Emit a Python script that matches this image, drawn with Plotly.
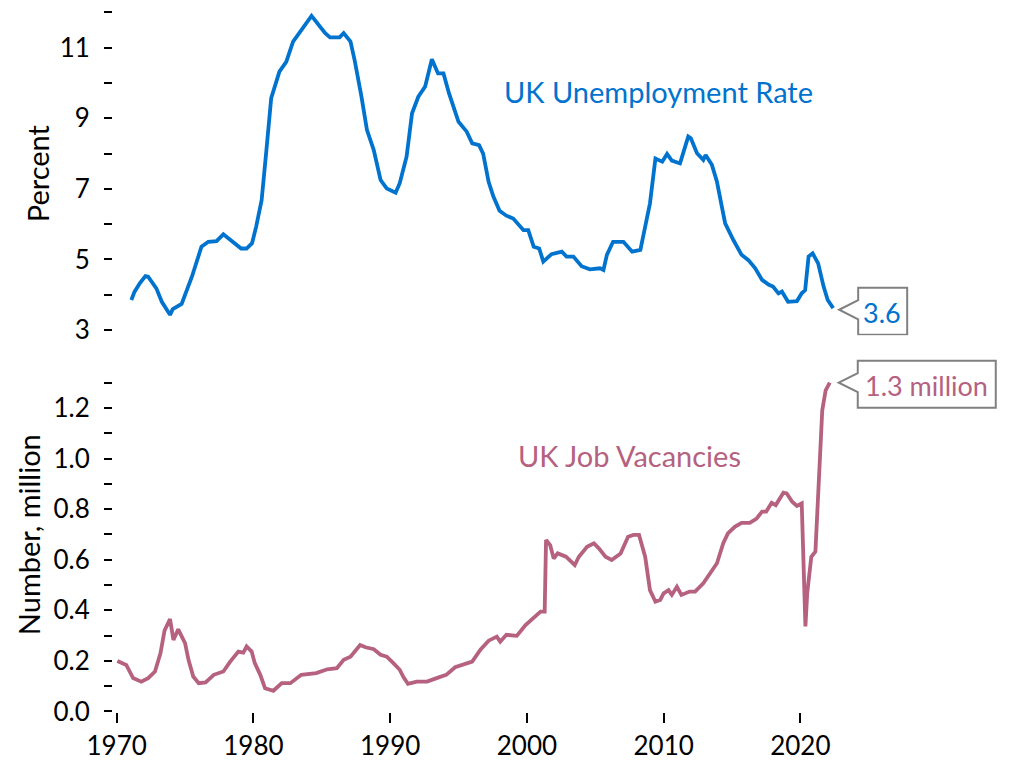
import plotly.graph_objects as go

# UK unemployment rate, percent
unemp_year = [
    1971.07, 1971.3, 1971.7, 1972.1, 1972.3, 1972.9, 1973.3, 1973.9, 1974.1, 1974.75,
    1975.5, 1976.2, 1976.7, 1977.3, 1977.8, 1978.5, 1979.1, 1979.5, 1979.9, 1980.2,
    1980.6, 1980.95, 1981.3, 1981.9, 1982.4, 1982.9, 1983.5, 1984.25, 1985.25, 1985.6,
    1986.3, 1986.6, 1987.1, 1987.4, 1987.9, 1988.3, 1988.8, 1989.3, 1989.75, 1990.4,
    1990.7, 1991.2, 1991.6, 1992.06, 1992.56, 1993.05, 1993.5, 1993.9, 1994.3, 1994.6,
    1995.0, 1995.6, 1996.0, 1996.5, 1996.8, 1997.2, 1997.55, 1998.0, 1998.5, 1999.0,
    1999.4, 1999.75, 2000.1, 2000.5, 2000.9, 2001.2, 2001.8, 2002.55, 2002.9, 2003.4,
    2004.0, 2004.6, 2005.35, 2005.6, 2005.85, 2006.3, 2007.06, 2007.7, 2008.3, 2008.65,
    2009.0, 2009.4, 2009.9, 2010.25, 2010.6, 2011.2, 2011.8, 2011.99, 2012.44, 2012.9,
    2013.07, 2013.53, 2013.9, 2014.26, 2014.5, 2015.1, 2015.7, 2016.2, 2016.7, 2017.2,
    2017.7, 2018.0, 2018.4, 2018.65, 2019.1, 2019.75, 2020.1, 2020.35, 2020.6, 2020.9,
    2021.3, 2021.7, 2022.0, 2022.4,
]
unemp_rate = [
    3.85, 4.08, 4.33, 4.53, 4.51, 4.18, 3.8, 3.43, 3.59, 3.74,
    4.51, 5.36, 5.5, 5.52, 5.71, 5.5, 5.31, 5.31, 5.46, 5.93,
    6.68, 8.1, 9.57, 10.32, 10.6, 11.17, 11.5, 11.9, 11.41, 11.29,
    11.29, 11.41, 11.17, 10.65, 9.61, 8.67, 8.1, 7.25, 7.01, 6.89,
    7.16, 7.91, 9.14, 9.61, 9.9, 10.67, 10.27, 10.27, 9.71, 9.38,
    8.9, 8.62, 8.29, 8.24, 8.0, 7.2, 6.78, 6.38, 6.24, 6.16,
    5.98, 5.83, 5.83, 5.36, 5.31, 4.94, 5.15, 5.22, 5.08, 5.08,
    4.81, 4.72, 4.75, 4.7, 5.13, 5.5, 5.5, 5.22, 5.27, 5.93,
    6.59, 7.86, 7.77, 7.99, 7.8, 7.72, 8.48, 8.43, 8.01, 7.82,
    7.96, 7.68, 7.2, 6.49, 6.02, 5.55, 5.13, 4.98, 4.75, 4.42,
    4.28, 4.23, 4.04, 4.09, 3.8, 3.82, 4.04, 4.13, 5.08, 5.17,
    4.89, 4.23, 3.85, 3.62,
]

# UK job vacancies, million
vac_year = [
    1970.05, 1970.7, 1971.2, 1971.8, 1972.3, 1972.8, 1973.2, 1973.5, 1973.9, 1974.15,
    1974.5, 1975.0, 1975.25, 1975.6, 1976.0, 1976.5, 1977.1, 1977.8, 1978.3, 1978.9,
    1979.26, 1979.5, 1979.87, 1980.1, 1980.5, 1980.85, 1981.46, 1982.07, 1982.7, 1983.5,
    1984.6, 1985.4, 1986.1, 1986.6, 1987.1, 1987.8, 1988.2, 1988.8, 1989.3, 1989.75,
    1990.2, 1990.7, 1990.97, 1991.3, 1991.95, 1992.7, 1993.4, 1994.1, 1994.75, 1995.35,
    1996.0, 1996.6, 1997.2, 1997.8, 1998.05, 1998.5, 1999.26, 1999.9, 2000.5, 2001.0,
    2001.3, 2001.4, 2001.7, 2001.96, 2002.25, 2002.86, 2003.5, 2003.8, 2004.4, 2004.9,
    2005.26, 2005.75, 2006.2, 2006.85, 2007.4, 2007.8, 2008.2, 2008.65, 2009.0, 2009.4,
    2009.75, 2010.0, 2010.36, 2010.6, 2010.97, 2011.3, 2011.9, 2012.3, 2012.9, 2013.4,
    2013.9, 2014.36, 2014.7, 2015.2, 2015.7, 2016.3, 2016.8, 2017.2, 2017.5, 2017.9,
    2018.2, 2018.76, 2019.0, 2019.4, 2019.75, 2020.1, 2020.2, 2020.37, 2020.5, 2020.8,
    2021.1, 2021.3, 2021.6, 2021.85, 2022.15,
]
vac_million = [
    0.2, 0.184, 0.132, 0.118, 0.132, 0.158, 0.23, 0.32, 0.365, 0.283,
    0.325, 0.27, 0.204, 0.138, 0.112, 0.115, 0.145, 0.158, 0.197, 0.237,
    0.233, 0.257, 0.237, 0.191, 0.145, 0.092, 0.082, 0.112, 0.112, 0.145,
    0.152, 0.167, 0.171, 0.204, 0.217, 0.263, 0.254, 0.246, 0.224, 0.217,
    0.193, 0.165, 0.136, 0.109, 0.118, 0.118, 0.132, 0.145, 0.175, 0.184,
    0.197, 0.244, 0.28, 0.296, 0.276, 0.303, 0.299, 0.342, 0.369, 0.395,
    0.395, 0.678, 0.658, 0.605, 0.625, 0.612, 0.579, 0.612, 0.651, 0.665,
    0.645, 0.612, 0.599, 0.625, 0.691, 0.698, 0.698, 0.612, 0.48, 0.434,
    0.441, 0.467, 0.48, 0.461, 0.493, 0.461, 0.474, 0.474, 0.507, 0.546,
    0.586, 0.665, 0.704, 0.73, 0.746, 0.746, 0.763, 0.79, 0.79, 0.825,
    0.816, 0.865, 0.862, 0.829, 0.813, 0.823, 0.665, 0.336, 0.467, 0.612,
    0.632, 0.836, 1.19, 1.27, 1.30,
]

x_ticks = [1970, 1980, 1990, 2000, 2010, 2020]
unemp_ticks = [3, 4, 5, 6, 7, 8, 9, 10, 11, 12]
unemp_labels = ["3", "", "5", "", "7", "", "9", "", "11", ""]
vac_ticks = [0.0, 0.1, 0.2, 0.3, 0.4, 0.5, 0.6, 0.7, 0.8, 0.9, 1.0, 1.1, 1.2, 1.3]
vac_labels = ["0.0", "", "0.2", "", "0.4", "", "0.6", "", "0.8", "", "1.0", "", "1.2", ""]

BLUE = "#0073CF"
PINK = "#B5617F"
GREY = "#808080"
FONT = "Lato, 'Open Sans', sans-serif"

fig = go.Figure()
fig.add_trace(go.Scatter(x=unemp_year, y=unemp_rate, mode="lines", xaxis="x2", yaxis="y2",
                         line=dict(color=BLUE, width=3.8), showlegend=False))
fig.add_trace(go.Scatter(x=vac_year, y=vac_million, mode="lines", xaxis="x", yaxis="y",
                         line=dict(color=PINK, width=3.8), showlegend=False))

tick_style = dict(ticks="outside", tickwidth=2, tickcolor="black", showgrid=False,
                  zeroline=False, showline=False, automargin=False,
                  tickfont=dict(family=FONT, size=26, color="black"))

# the page body adds 8px around the figure, so the figure is 8px smaller
fig.update_layout(
    width=1003,
    height=752,
    plot_bgcolor="white",
    paper_bgcolor="white",
    margin=dict(l=105, r=11, t=4, b=48),
    font=dict(family=FONT, color="black"),
    xaxis=dict(range=[1969.73, 2034.6], tickvals=x_ticks, ticklen=10,
               ticklabelstandoff=1, **tick_style),
    xaxis2=dict(matches="x", anchor="y2", showticklabels=False, ticks="",
                showgrid=False, zeroline=False, showline=False),
    yaxis=dict(domain=[0, 0.5066], range=[-0.002, 1.4], tickvals=vac_ticks,
               ticktext=vac_labels, ticklen=8, ticklabelstandoff=9,
               title=dict(text="Number, million", font=dict(family=FONT, size=29), standoff=4),
               **tick_style),
    yaxis2=dict(domain=[0.5381, 1.0], range=[2.85, 12.01], anchor="x2", tickvals=unemp_ticks,
                ticktext=unemp_labels, ticklen=8, ticklabelstandoff=9,
                title=dict(text="Percent", font=dict(family=FONT, size=29), standoff=1),
                **tick_style),
)

# series labels
fig.add_annotation(x=2009.6, y=9.77, xref="x2", yref="y2", text="UK Unemployment Rate",
                   showarrow=False, font=dict(family=FONT, size=29, color=BLUE))
fig.add_annotation(x=2007.5, y=1.013, xref="x", yref="y", text="UK Job Vacancies",
                   showarrow=False, font=dict(family=FONT, size=29, color=PINK))


def callout(x, y, xref, yref, text, color, box_w, tip_dx, tip_dy, text_dx, text_dy):
    # box with a left-pointing notch, drawn in pixels around the last data point
    left = tip_dx + 19
    right = left + box_w
    path = (f"M {tip_dx},{tip_dy} L {left},{tip_dy + 9.5} L {left},{tip_dy + 22} "
            f"L {right},{tip_dy + 22} L {right},{tip_dy - 25} L {left},{tip_dy - 25} "
            f"L {left},{tip_dy - 9.5} Z")
    fig.add_shape(type="path", xref=xref, yref=yref, xsizemode="pixel", ysizemode="pixel",
                  xanchor=x, yanchor=y, path=path, fillcolor="white",
                  line=dict(color=GREY, width=2), layer="above")
    fig.add_annotation(x=x, y=y, xref=xref, yref=yref, text=text, showarrow=False,
                       xshift=text_dx, yshift=text_dy,
                       font=dict(family=FONT, size=27, color=color))


callout(unemp_year[-1], unemp_rate[-1], "x2", "y2", "3.6", BLUE, 49, 6, -1.6, 49, -4)
callout(vac_year[-1], vac_million[-1], "x", "y", "1.3 million", PINK, 138, 9, 0, 97, -3)

fig.write_html("out.html")
